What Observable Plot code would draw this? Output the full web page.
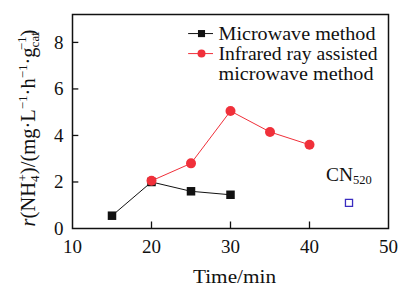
<!DOCTYPE html>
<html><head><meta charset="utf-8">
<script src="https://cdn.jsdelivr.net/npm/d3@7"></script>
<script src="https://cdn.jsdelivr.net/npm/@observablehq/plot@0.6"></script>
<style>
body{margin:0;background:#fff;}
svg, svg text, svg tspan { font-family: "Liberation Serif", "Times New Roman", "DejaVu Serif", serif !important; }
</style>
</head><body><div id="c"></div>
<script>
const mwTime = [15, 20, 25, 30];
const mwRate = [0.55, 2.0, 1.6, 1.45];
const irTime = [20, 25, 30, 35, 40];
const irRate = [2.05, 2.8, 5.05, 4.15, 3.6];
const cnTime = [45];
const cnRate = [1.1];
const cnLabel = "CN";
const cnSub = "520";
const xTicks = [10, 20, 30, 40, 50];
const yTicks = [0, 2, 4, 6, 8];
const legendLabels = ["Microwave method", "Infrared ray assisted", "microwave method"];
const xLabel = "Time/min";

const mw = mwTime.map((t, i) => ({t, r: mwRate[i]}));
const ir = irTime.map((t, i) => ({t, r: irRate[i]}));
const cn = cnTime.map((t, i) => ({t, r: cnRate[i]}));
const black = "#111", red = "#f0303a", blue = "#3a2cc0";

const plot = Plot.plot({
  width: 400, height: 288,
  marginLeft: 72, marginRight: 12, marginTop: 14, marginBottom: 60,
  style: {fontSize: "19px", color: "#111", background: "#fff"},
  x: {domain: [10, 50], ticks: xTicks, tickFormat: d => d, label: null},
  y: {domain: [0, 9.2], ticks: yTicks, tickFormat: d => d, label: null},
  marks: [
    Plot.axisX(xTicks, {tickSize: 0, tickPadding: 11, fontSize: 19}),
    Plot.axisY(yTicks, {tickSize: 0, tickPadding: 9, fontSize: 19}),
    Plot.ruleX(xTicks.slice(1, -1), {y1: 0, y2: 0.28, stroke: black, strokeWidth: 1.3}),
    Plot.ruleY(yTicks.slice(1), {x1: 10, x2: 10.8, stroke: black, strokeWidth: 1.3}),
    Plot.line(mw, {x: "t", y: "r", stroke: black, strokeWidth: 1}),
    Plot.line(ir, {x: "t", y: "r", stroke: red, strokeWidth: 1}),
    Plot.dot(mw, {x: "t", y: "r", symbol: "square", r: 4.8, fill: black, stroke: "none"}),
    Plot.dot(ir, {x: "t", y: "r", r: 5, fill: red, stroke: "none"}),
    Plot.dot(cn, {x: "t", y: "r", symbol: "square", r: 4, fill: "none", stroke: blue, strokeWidth: 1.3}),
    // legend
    Plot.ruleY([8.38], {x1: 24.7, x2: 27.85, stroke: black, strokeWidth: 1}),
    Plot.dot([{t: 26.33, r: 8.38}], {x: "t", y: "r", symbol: "square", r: 4, fill: black}),
    Plot.ruleY([7.52], {x1: 24.7, x2: 27.85, stroke: red, strokeWidth: 1}),
    Plot.dot([{t: 26.33, r: 7.52}], {x: "t", y: "r", r: 4, fill: red}),
    Plot.text([legendLabels[0]], {x: 28.48, y: 8.38, text: d => d, textAnchor: "start", fontSize: 19, fill: black}),
    Plot.text([legendLabels[1]], {x: 28.48, y: 7.52, text: d => d, textAnchor: "start", fontSize: 19, fill: black}),
    Plot.text([legendLabels[2]], {x: 28.48, y: 6.66, text: d => d, textAnchor: "start", fontSize: 19, fill: black}),
    Plot.frame({stroke: black, strokeWidth: 1.5})
  ]
});
document.getElementById("c").appendChild(plot);

const svg = d3.select(plot);
const xs = plot.scale("x"), ys = plot.scale("y");

// stretch legend texts horizontally to match the reference's wide typeface
const legendWidths = [157, 159, 155];
svg.selectAll("text").filter(function() { return legendLabels.includes(this.textContent); })
  .each(function() {
    const i = legendLabels.indexOf(this.textContent);
    const idx = (this.textContent === legendLabels[2] && this.__seen) ? 2 : i;
    d3.select(this).attr("textLength", legendWidths[i]).attr("lengthAdjust", "spacingAndGlyphs");
  });

const cnT = svg.append("text").attr("x", xs.apply(42.15)).attr("y", ys.apply(2.02))
  .attr("text-anchor", "start").attr("font-size", 19).attr("fill", black);
cnT.append("tspan").attr("textLength", 27).attr("lengthAdjust", "spacingAndGlyphs").text(cnLabel);
cnT.append("tspan").attr("font-size", 12.5).attr("dy", 3).text(cnSub);

svg.append("text").attr("x", 193).attr("y", 283).attr("text-anchor", "start")
  .attr("font-size", 19).attr("fill", black)
  .attr("textLength", 83).attr("lengthAdjust", "spacingAndGlyphs").text(xLabel);

const yl = svg.append("text").attr("transform", `translate(35,${ys.apply(4.3)}) rotate(-90)`)
  .attr("text-anchor", "middle").attr("font-size", 20.5).attr("fill", black);
yl.append("tspan").attr("font-style", "italic").text("r");
yl.append("tspan").text("(NH");
yl.append("tspan").attr("font-size", 13).attr("dy", 4).text("4");
yl.append("tspan").attr("font-size", 13).attr("dx", -6).attr("dy", -12).text("+");
yl.append("tspan").attr("dy", 8).text(")/(mg·L");
yl.append("tspan").attr("font-size", 13).attr("dy", -8).text("−1");
yl.append("tspan").attr("dy", 8).text("·h");
yl.append("tspan").attr("font-size", 13).attr("dy", -8).text("−1");
yl.append("tspan").attr("dy", 8).text("·g");
yl.append("tspan").attr("font-size", 13).attr("dy", 4).text("cat");
yl.append("tspan").attr("font-size", 13).attr("dx", -18).attr("dy", -13).text("−1");
yl.append("tspan").attr("dy", 9).text(")");
</script></body></html>
